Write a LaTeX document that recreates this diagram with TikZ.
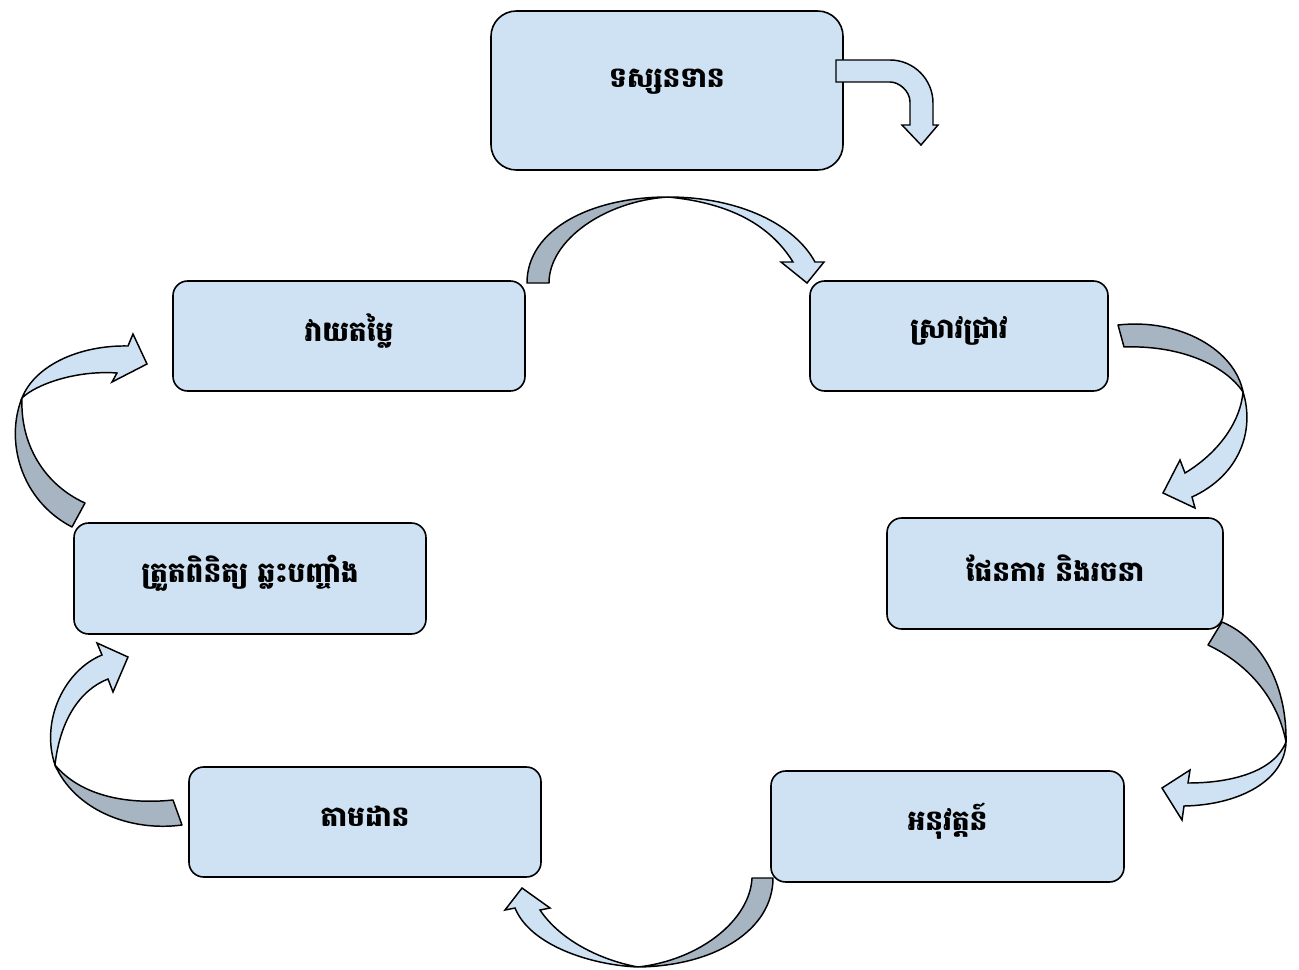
\documentclass[tikz,border=0pt]{standalone}
\usepackage{fontspec}
\newfontfamily\khmerfont[Script=Khmer]{Battambang}
\definecolor{boxblue}{RGB}{207,226,243}
\definecolor{backblue}{RGB}{167,181,194}
\begin{document}
\begin{tikzpicture}[x=0.75pt,y=-0.75pt,
  stagebox/.style={draw=black,line width=1.2pt,fill=boxblue,rounded corners=11pt,inner sep=0pt},
  stagetext/.style={font=\khmerfont\bfseries\fontsize{21}{24}\selectfont,inner sep=0pt},
  backpart/.style={draw=black,line width=1.1pt,fill=backblue,line join=round},
  frontpart/.style={draw=black,line width=1.1pt,fill=boxblue,line join=miter}]
\useasboundingbox (0,0) rectangle (1299,970);
% boxes
\node[stagebox,rounded corners=19pt,minimum width=352*0.75pt,minimum height=159*0.75pt] (concept) at (667,90.5) {};
\node[stagebox,minimum width=352*0.75pt,minimum height=110*0.75pt] (evaluate) at (349,336) {};
\node[stagebox,minimum width=298*0.75pt,minimum height=110*0.75pt] (research) at (959,336) {};
\node[stagebox,minimum width=336*0.75pt,minimum height=111*0.75pt] (plan) at (1055,573.5) {};
\node[stagebox,minimum width=352*0.75pt,minimum height=111*0.75pt] (reflect) at (250,578.5) {};
\node[stagebox,minimum width=353*0.75pt,minimum height=111*0.75pt] (implement) at (947.5,826.5) {};
\node[stagebox,minimum width=352*0.75pt,minimum height=110*0.75pt] (monitor) at (365,822) {};
% labels
\node[stagetext] (tconcept) at (667,82) {ទស្សនទាន};
\node[stagetext] (tevaluate) at (349,331) {វាយតម្លៃ};
\node[stagetext] (tresearch) at (959,331) {ស្រាវជ្រាវ};
\node[stagetext] (tplan) at (1055,568) {ផែនការ និងរចនា};
\node[stagetext] (treflect) at (250,573) {ត្រួតពិនិត្យ ឆ្លះបញ្ចាំង};
\node[stagetext] (timplement) at (947.5,821) {អនុវត្តន៍};
\node[stagetext] (tmonitor) at (365,816) {តាមដាន};
% bent arrow from concept
\draw[frontpart] (836,60) -- (890,60) .. controls (913.7,60) and (933,79.3) .. (933,103)
  -- (933,125) -- (938,125) -- (921,145) -- (902,125) -- (910,125) -- (910,102)
  .. controls (910,91) and (899,82) .. (890,82) -- (836,82) -- cycle;
% arrow evaluate -> research (top)
\draw[backpart] (527,283) .. controls (527,230) and (590,197) .. (668,197)
  .. controls (605,201) and (549,240) .. (549,283) -- cycle;
\draw[frontpart] (668,197) .. controls (740,197) and (795,225) .. (815,262)
  -- (824,262) -- (807,283) -- (781,262) -- (793,262)
  .. controls (770,225) and (730,203) .. (668,197) -- cycle;
% arrow research -> plan
\draw[backpart] (1118,325) .. controls (1180,318) and (1235,350) .. (1243,392)
  .. controls (1225,365) and (1180,345) .. (1124,347) -- cycle;
\draw[frontpart] (1243,392) .. controls (1255,430) and (1240,475) .. (1192,497)
  -- (1195,508) -- (1163,493) -- (1180,460) -- (1185,473)
  .. controls (1215,455) and (1240,425) .. (1243,392) -- cycle;
% arrow plan -> implement
\draw[backpart] (1222,622) .. controls (1265,640) and (1287,690) .. (1286,742)
  .. controls (1278,700) and (1250,665) .. (1208,645) -- cycle;
\draw[frontpart] (1286,742) .. controls (1285,780) and (1240,805) .. (1184,806)
  -- (1182,820) -- (1162,788) -- (1190,770) -- (1188,783)
  .. controls (1235,783) and (1275,770) .. (1286,742) -- cycle;
% arrow implement -> monitor (bottom)
\draw[backpart] (752,878) .. controls (750,920) and (700,960) .. (638,967)
  .. controls (715,966) and (773,930) .. (773,878) -- cycle;
\draw[frontpart] (638,967) .. controls (590,965) and (530,945) .. (515,908)
  -- (505,910) -- (522,888) -- (550,908) -- (540,910)
  .. controls (560,940) and (600,960) .. (638,967) -- cycle;
% arrow monitor -> reflect
\draw[backpart] (182,825) .. controls (130,832) and (75,810) .. (55,765)
  .. controls (80,795) and (125,805) .. (173,800) -- cycle;
\draw[frontpart] (55,765) .. controls (40,720) and (65,670) .. (102,655)
  -- (97,643) -- (128,657) -- (113,692) -- (108,679)
  .. controls (80,690) and (60,720) .. (55,765) -- cycle;
% arrow reflect -> evaluate
\draw[backpart] (72,527) .. controls (20,500) and (5,440) .. (22,398)
  .. controls (20,445) and (45,485) .. (85,503) -- cycle;
\draw[frontpart] (22,398) .. controls (35,365) and (80,345) .. (128,346)
  -- (133,334) -- (147,364) -- (112,382) -- (117,373)
  .. controls (75,370) and (35,385) .. (22,398) -- cycle;
\end{tikzpicture}
\end{document}
